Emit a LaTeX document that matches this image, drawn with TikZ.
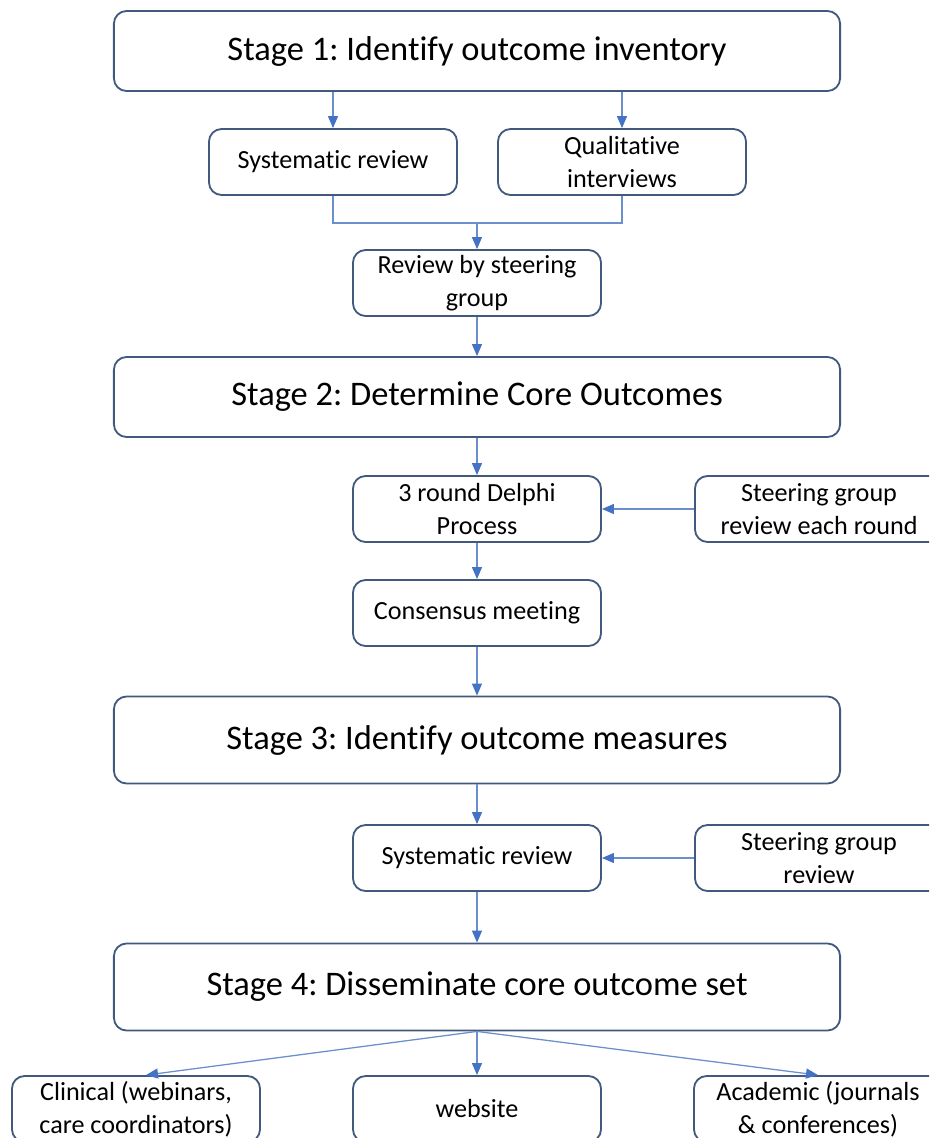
\documentclass[tikz,border=0pt]{standalone}
\usepackage{fontspec}
\setmainfont{Carlito}[Ligatures=NoCommon]
\usetikzlibrary{arrows.meta}
\definecolor{boxline}{HTML}{41597D}
\definecolor{linkline}{HTML}{6A8FCC}
\definecolor{tipblue}{HTML}{4472C4}
\frenchspacing

\begin{document}
\begin{tikzpicture}
        [x=0.025cm,y=-0.025cm,
        every node/.style={shape=rectangle,rounded corners=9pt,draw=boxline,
        line width=1.3pt,align=center,inner sep=0pt},
        stage/.style={minimum width=18.15cm,minimum height=2cm,
        font=\fontsize{24.5}{29}\selectfont},
        box/.style={minimum width=6.2cm,minimum height=1.65cm,
        font=\fontsize{18.6}{23.5}\selectfont},
        link/.style={draw=linkline,line width=0.9pt,
        -{Triangle[length=0.3cm,width=0.25cm,color=tipblue]}}]
		\useasboundingbox (0,0) rectangle (929,1138);
		\clip (0,0) rectangle (929,1138);
		% stage 1
		\node[stage] (stageA) at (477,51) {Stage 1: Identify outcome inventory};
		\node[box] (sysA) at (333,162) {Systematic review};
		\node[box] (qualA) at (622,162) {Qualitative\\interviews};
		\node[box] (steerA) at (477,283) {Review by steering\\group};
		% stage 2
		\node[stage] (stageB) at (477,397) {Stage 2: Determine Core Outcomes};
		\node[box] (delphi) at (477,509) {3 round Delphi\\Process};
		\node[box] (steerB) at (819,509) {Steering group\\review each round};
		\node[box] (consensus) at (477,613) {Consensus meeting};
		% stage 3
		\node[stage,minimum height=2.175cm] (stageC) at (477,740) {Stage 3: Identify outcome measures};
		\node[box] (sysB) at (477,858) {Systematic review};
		\node[box] (steerC) at (819,858) {Steering group\\review};
		% stage 4
		\node[stage,minimum height=2.175cm] (stageD) at (477,987) {Stage 4: Disseminate core outcome set};
		\node[box] (clinical) at (136,1109) {Clinical (webinars,\\care coordinators)};
		\node[box] (website) at (477,1109) {website};
		\node[box] (academic) at (818,1109) {Academic (journals\\\& conferences)};

		\coordinate (join) at (477,223);
		\draw[link] (stageA.south -| sysA) -- (sysA);
		\draw[link] (stageA.south -| qualA) -- (qualA);
		\draw[draw=linkline,line width=0.9pt] (sysA.south) |- (join) -| (qualA.south);
		\draw[link] (join) -- (steerA);
		\draw[link] (steerA) -- (stageB);
		\draw[link] (stageB) -- (delphi);
		\draw[link] (steerB) -- (delphi);
		\draw[link] (delphi) -- (consensus);
		\draw[link] (consensus) -- (stageC);
		\draw[link] (stageC) -- (sysB);
		\draw[link] (steerC) -- (sysB);
		\draw[link] (sysB) -- (stageD);
		\draw[link] (stageD.south) -- ([xshift=0.25cm]clinical.north);
		\draw[link] (stageD.south) -- (website.north);
		\draw[link] (stageD.south) -- (academic.north);
	\end{tikzpicture}
\end{document}
